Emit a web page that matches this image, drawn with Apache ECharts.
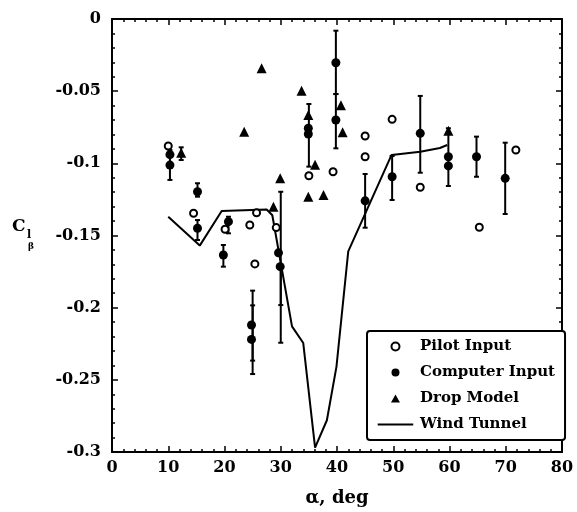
<!DOCTYPE html>
<html>
<head>
<meta charset="utf-8">
<script src="https://cdn.jsdelivr.net/npm/echarts@6/dist/echarts.min.js"></script>
<style>html,body{margin:0;padding:0;background:#fff}#c{width:577px;height:512px}</style>
</head>
<body>
<div id="c"></div>
<script>
// ---- data (alpha in deg, C_l_beta) ----
const xTicks = [0, 10, 20, 30, 40, 50, 60, 70, 80];
const yTicks = [0, -0.05, -0.1, -0.15, -0.2, -0.25, -0.3];

const pilotInput = [
  [10.0, -0.088], [14.5, -0.1346], [20.1, -0.1457], [24.5, -0.1427], [25.7, -0.1342],
  [25.4, -0.1697], [29.2, -0.1445], [35.0, -0.1086], [39.3, -0.1058], [45.0, -0.0811],
  [45.0, -0.0954], [49.8, -0.0695], [54.8, -0.1166], [65.3, -0.1443], [71.8, -0.0908]
];
const computerInput = [
  [10.3, -0.094], [10.3, -0.1012], [15.2, -0.1197], [15.2, -0.145], [20.7, -0.1404],
  [19.8, -0.1635], [24.8, -0.212], [24.8, -0.222], [29.6, -0.162], [29.9, -0.1716],
  [34.9, -0.0757], [34.9, -0.0797], [39.8, -0.0303], [39.8, -0.070], [45.0, -0.126],
  [49.8, -0.1093], [54.8, -0.0792], [59.8, -0.0954], [59.8, -0.1018], [64.8, -0.0954],
  [69.9, -0.1104]
];
const dropModel = [
  [12.3, -0.0926], [23.5, -0.0781], [26.6, -0.0342], [28.7, -0.130], [29.9, -0.1104],
  [33.7, -0.0497], [34.9, -0.0665], [36.1, -0.101], [34.9, -0.1231], [37.6, -0.122],
  [40.7, -0.0598], [41.0, -0.0785], [59.8, -0.0774]
];
const windTunnel = [
  [10, -0.137], [15.6, -0.157], [19.5, -0.133], [27.5, -0.132], [28.5, -0.136],
  [32, -0.213], [34, -0.2245], [36.1, -0.297], [38.2, -0.278], [39.9, -0.241],
  [42, -0.161], [49.7, -0.0942], [54.8, -0.092], [58.3, -0.0894], [59.6, -0.0873]
];
// error bars: [alpha, upper, lower]
const errorBars = [
  [10.3, -0.0908, -0.1115], [12.3, -0.0889, -0.0977], [15.2, -0.1138, -0.1231],
  [15.2, -0.1393, -0.1531], [20.7, -0.137, -0.1485], [19.8, -0.1566, -0.1716],
  [25.0, -0.1882, -0.2367], [25.0, -0.1984, -0.246], [30.0, -0.1197, -0.1982],
  [30.0, -0.1716, -0.2243], [35.0, -0.0589, -0.1023], [39.8, -0.0081, -0.052],
  [39.8, -0.052, -0.0896], [45.0, -0.1074, -0.1446], [49.8, -0.0949, -0.1254],
  [54.8, -0.0533, -0.1065], [59.8, -0.0757, -0.1157], [64.8, -0.0815, -0.1093],
  [69.9, -0.0857, -0.1351]
];

const FONT = 'DejaVu Serif';
const chart = echarts.init(document.getElementById('c'), null, {renderer: 'canvas'});

const axisCommon = {
  axisLine: {show: true, onZero: false, lineStyle: {color: '#000', width: 2}},
  axisTick: {show: true, inside: true, length: 6, lineStyle: {color: '#000', width: 1.5}},
  minorTick: {show: true, splitNumber: 5, length: 3, lineStyle: {color: '#000', width: 1.5}},
  splitLine: {show: false},
  minorSplitLine: {show: false}
};
const labelStyle = {color: '#000', fontFamily: FONT, fontWeight: 'bold', fontSize: 16};

const lineIcon = 'path://M0,3.5H40V5.5H0Z M0,0h0.01v0.01h-0.01Z M40,9h0.01v0.01h-0.01Z';
const triIcon = 'path://M19.5,0L24,8L15,8Z M0,0h0.01v0.01h-0.01Z M39,8h0.01v0.01h-0.01Z';

const option = {
  animation: false,
  backgroundColor: '#fff',
  grid: {left: 112, right: 15, top: 19, bottom: 60},
  xAxis: [
    Object.assign({}, axisCommon, {
      type: 'value', position: 'bottom', min: xTicks[0], max: xTicks[xTicks.length - 1], interval: 10,
      axisLabel: Object.assign({margin: 8}, labelStyle),
      name: 'α, deg', nameLocation: 'middle', nameGap: 37,
      nameTextStyle: {color: '#000', fontFamily: FONT, fontWeight: 'bold', fontSize: 18}
    }),
    Object.assign({}, axisCommon, {
      type: 'value', position: 'top', min: 0, max: 80, interval: 10, axisLabel: {show: false}
    })
  ],
  yAxis: [
    Object.assign({}, axisCommon, {
      type: 'value', position: 'left', min: yTicks[yTicks.length - 1], max: yTicks[0], interval: 0.05,
      axisLabel: Object.assign({margin: 11, formatter: v => String(Math.round(v * 100) / 100)}, labelStyle)
    }),
    Object.assign({}, axisCommon, {
      type: 'value', position: 'right', min: -0.3, max: 0, interval: 0.05, axisLabel: {show: false}
    })
  ],
  legend: {
    orient: 'vertical', left: 367, top: 331,
    data: [
      {name: 'Pilot Input'},
      {name: 'Computer Input'},
      {name: 'Drop Model', icon: triIcon, itemStyle: {color: '#000', opacity: 1}},
      {name: 'Wind Tunnel', icon: lineIcon, itemStyle: {color: '#000', opacity: 1}}
    ],
    itemWidth: 39, itemHeight: 8, itemGap: 11,
    padding: [8, 10, 8, 9],
    borderColor: '#000', borderWidth: 2, borderRadius: 3, backgroundColor: '#fff',
    textStyle: {color: '#000', fontFamily: FONT, fontWeight: 'bold', fontSize: 15}
  },
  graphic: [
    {type: 'text', left: 12, top: 218, style: {text: 'C', fill: '#000', font: 'bold 17px "DejaVu Serif"'}},
    {type: 'text', left: 27, top: 230, style: {text: 'l', fill: '#000', font: 'bold 11px "DejaVu Serif"'}},
    {type: 'text', left: 28, top: 242, style: {text: 'β', fill: '#000', font: 'bold 9px "DejaVu Serif"'}}
  ],
  series: [
    {
      type: 'custom', name: 'err', data: errorBars, z: 2,
      renderItem: function (params, api) {
        const x = api.value(0);
        const top = api.coord([x, api.value(1)]);
        const bot = api.coord([x, api.value(2)]);
        const w = 2.5;
        const st = {stroke: '#000', lineWidth: 2};
        return {type: 'group', children: [
          {type: 'line', shape: {x1: top[0], y1: top[1], x2: bot[0], y2: bot[1]}, style: st},
          {type: 'line', shape: {x1: top[0] - w, y1: top[1], x2: top[0] + w, y2: top[1]}, style: st},
          {type: 'line', shape: {x1: bot[0] - w, y1: bot[1], x2: bot[0] + w, y2: bot[1]}, style: st}
        ]};
      }
    },
    {
      type: 'line', name: 'Wind Tunnel', data: windTunnel, symbol: 'none', z: 3,
      lineStyle: {color: '#000', width: 2}, itemStyle: {color: '#000'}
    },
    {
      type: 'scatter', name: 'Pilot Input', data: pilotInput, symbol: 'circle', symbolSize: 7, z: 5,
      itemStyle: {color: '#fff', borderColor: '#000', borderWidth: 2, opacity: 1}
    },
    {
      type: 'scatter', name: 'Computer Input', data: computerInput, symbol: 'circle', symbolSize: 9, z: 5,
      itemStyle: {color: '#000', opacity: 1}
    },
    {
      type: 'scatter', name: 'Drop Model', data: dropModel, symbol: 'triangle', symbolSize: 10, z: 5,
      itemStyle: {color: '#000', opacity: 1}
    }
  ]
};
chart.setOption(option);
</script>
</body>
</html>
